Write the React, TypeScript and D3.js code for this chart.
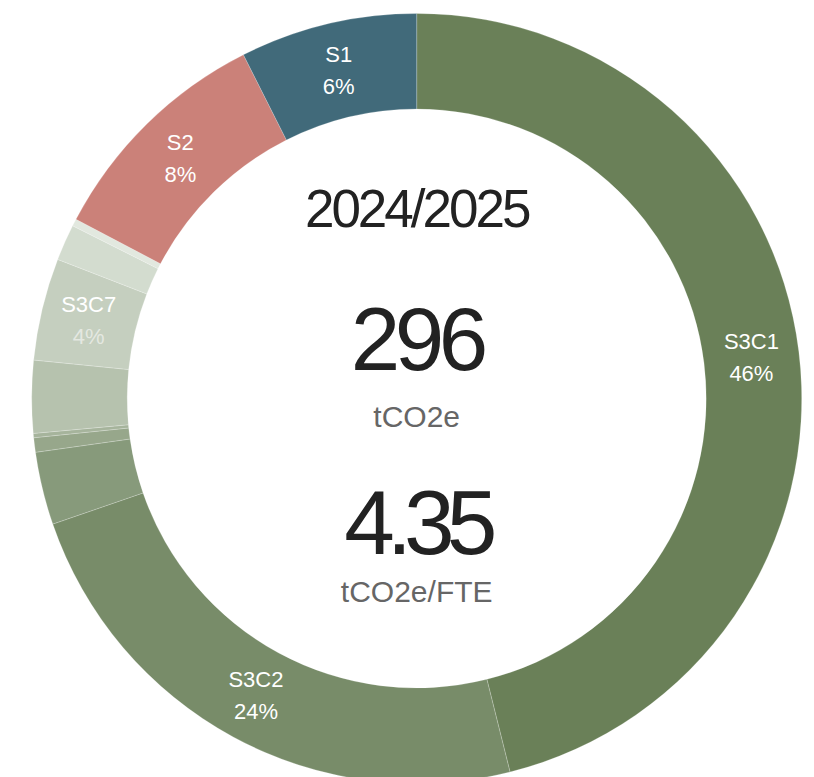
import React from "react";
import * as d3 from "d3";

const categories = ["S3C1", "S3C2", "S3C3", "S3C4", "S3C5", "S3C6", "S3C7", "S3C8", "S3C9", "S2", "S1"];
const values = [136.5, 69.9, 9.05, 1.8, 0.53, 9.0, 12.7, 4.5, 0.9, 29.2, 22.0];
const colors = ["#6a8058", "#788c69", "#879a7b", "#97a78b", "#a6b49c", "#b6c2ae", "#c5cfbf", "#d3dccf", "#e2e8df", "#cb8179", "#416a7a"];
const pctLabels = ["46%", "24%", "", "", "", "", "4%", "", "", "8%", "6%"];
const pctColors = ["#ffffff", "#ffffff", "#ffffff", "#ffffff", "#ffffff", "#ffffff", "#e4e8e1", "#ffffff", "#ffffff", "#ffffff", "#ffffff"];
const yearLabel = "2024/2025";
const totalLabel = "296";
const totalUnit = "tCO2e";
const perFteLabel = "4.35";
const perFteUnit = "tCO2e/FTE";

const W = 814;
const H = 777;
const cx = 416.7;
const cy = 398.5;
const rOuter = 385;
const rInner = 289.5;

export default function App() {
  const data = categories.map((c, i) => ({ name: c, value: values[i], color: colors[i], pct: pctLabels[i], pctColor: pctColors[i] }));
  const pie = d3.pie<any>().sort(null).value((d: any) => d.value).startAngle(0).endAngle(2 * Math.PI);
  const arcs = pie(data);
  const arc = d3.arc<any>().innerRadius(rInner).outerRadius(rOuter);
  const font = "'Liberation Sans', Arial, Helvetica, sans-serif";
  return (
    <div style={{ position: "absolute", left: 0, top: 0 }}>
      <svg width={W} height={H} style={{ display: "block" }}>
        <rect width={W} height={H} fill="#ffffff" />
        <g transform={`translate(${cx},${cy})`}>
          {arcs.map((a, i) => (
            <path key={i} d={arc(a) as string} fill={a.data.color} stroke="#ffffff" strokeOpacity={0.35} strokeWidth={0.6} />
          ))}
          {arcs.map((a, i) => {
            if (!a.data.pct) return null;
            const [x, y] = arc.centroid(a);
            return (
              <g key={"l" + i} fontFamily={font} fontSize={22} textAnchor="middle">
                <text x={x} y={y - 8} fill="#ffffff">{a.data.name}</text>
                <text x={x} y={y + 24} fill={a.data.pctColor}>{a.data.pct}</text>
              </g>
            );
          })}
        </g>
        <g fontFamily={font} textAnchor="middle">
          <text x={cx} y={226.5} fontSize={53} fill="#222222" letterSpacing={-3}>{yearLabel}</text>
          <text x={cx} y={369.5} fontSize={89} fill="#222222" letterSpacing={-5.5}>{totalLabel}</text>
          <text x={cx} y={427} fontSize={30} fill="#666666">{totalUnit}</text>
          <text x={cx} y={553.5} fontSize={91} fill="#222222" letterSpacing={-8}>{perFteLabel}</text>
          <text x={cx} y={602} fontSize={30} fill="#666666">{perFteUnit}</text>
        </g>
      </svg>
    </div>
  );
}
